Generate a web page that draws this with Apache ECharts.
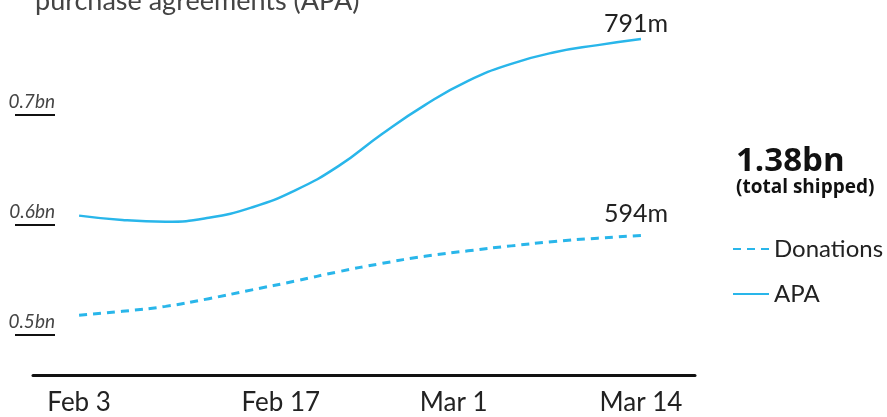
<!DOCTYPE html>
<html>
<head>
<meta charset="utf-8">
<script src="https://cdn.jsdelivr.net/npm/echarts@6/dist/echarts.min.js"></script>
<style>
  html, body { margin: 0; padding: 0; background: #fff; }
  #chart { width: 887px; height: 417px; }
</style>
</head>
<body>
<div id="chart"></div>
<script>
// days counted from Feb 3
const days = [0, 3, 6, 9, 12, 15, 18, 21, 24, 27, 30, 33, 36, 39];
const apaValues = [608.5, 604.5, 603, 606.5, 616, 631.5, 653.5, 682.5, 709, 731, 746.5, 757, 763.5, 769];
const donValues = [518, 521.5, 526, 533, 541, 549, 557.5, 565, 571.5, 576.5, 581, 585, 588, 590.5];
const endLabels = { APA: "791m", Donations: "594m" };
const tickDays = [0, 14, 26, 39];
const tickLabels = ["Feb 3", "Feb 17", "Mar 1", "Mar 14"];
const yTicks = [500, 600, 700];
const yTickLabels = ["0.5bn", "0.6bn", "0.7bn"];

const blue = "#29b6ea";
const font = "Lato";

function pairs(vals) {
  return days.map(function (d, i) { return [d, vals[i]]; });
}

function endLabel(name, dy) {
  return {
    show: true,
    formatter: endLabels[name],
    distance: 0,
    align: "center",
    verticalAlign: "bottom",
    offset: [-5, dy],
    fontFamily: font,
    fontSize: 25,
    color: "#222",
  };
}

const chart = echarts.init(document.getElementById("chart"));
chart.setOption({
  animation: false,
  title: [
    {
      text: "purchase agreements (APA)",
      left: 35,
      top: -12,
      padding: 0,
      textStyle: { fontFamily: font, fontSize: 27, fontWeight: "normal", color: "#444" },
    },
    {
      text: "1.38bn",
      subtext: "(total shipped)",
      left: 736,
      top: 145,
      padding: 0,
      itemGap: 0,
      textStyle: { fontFamily: "Open Sans", fontSize: 33, fontWeight: "bold", color: "#111" },
      subtextStyle: { fontFamily: "Open Sans", fontSize: 19, fontWeight: "bold", color: "#111" },
    },
  ],
  legend: {
    orient: "vertical",
    left: 727,
    top: 231,
    itemWidth: 36,
    itemHeight: 20,
    itemGap: 19,
    data: ["Donations", "APA"],
    itemStyle: { color: "rgba(0,0,0,0)", borderWidth: 0 },
    textStyle: { fontFamily: font, fontSize: 24, color: "#222", lineHeight: 26 },
  },
  grid: { left: 33, right: 192, top: 15, bottom: 42 },
  xAxis: {
    type: "value",
    min: -3.2,
    max: 42.75,
    axisLine: { onZero: false, lineStyle: { color: "#111", width: 3 } },
    axisTick: { show: false },
    splitLine: { show: false },
    axisLabel: {
      customValues: tickDays,
      margin: 15,
      fontFamily: font,
      fontSize: 26,
      color: "#222",
      formatter: function (v) {
        return tickLabels[tickDays.indexOf(v)];
      },
    },
  },
  yAxis: {
    type: "value",
    min: 463.6,
    max: 790.9,
    offset: -22,
    axisLine: { show: false, onZero: false },
    splitLine: { show: false },
    axisTick: {
      show: true,
      customValues: yTicks,
      length: 40,
      lineStyle: { color: "#111", width: 2 },
    },
    axisLabel: {
      customValues: yTicks,
      margin: 0,
      verticalAlign: "bottom",
      lineHeight: 26,
      fontFamily: font,
      fontStyle: "italic",
      fontSize: 19,
      color: "#444",
      formatter: function (v) {
        return yTickLabels[yTicks.indexOf(v)];
      },
    },
  },
  series: [
    {
      name: "Donations",
      type: "line",
      smooth: 0.5,
      symbol: "none",
      lineStyle: { color: blue, width: 3, type: [8, 6] },
      itemStyle: { color: blue },
      endLabel: endLabel("Donations", -9),
      data: pairs(donValues),
    },
    {
      name: "APA",
      type: "line",
      smooth: 0.5,
      symbol: "none",
      lineStyle: { color: blue, width: 2.5 },
      itemStyle: { color: blue },
      endLabel: endLabel("APA", -3),
      data: pairs(apaValues),
    },
  ],
});
</script>
</body>
</html>
